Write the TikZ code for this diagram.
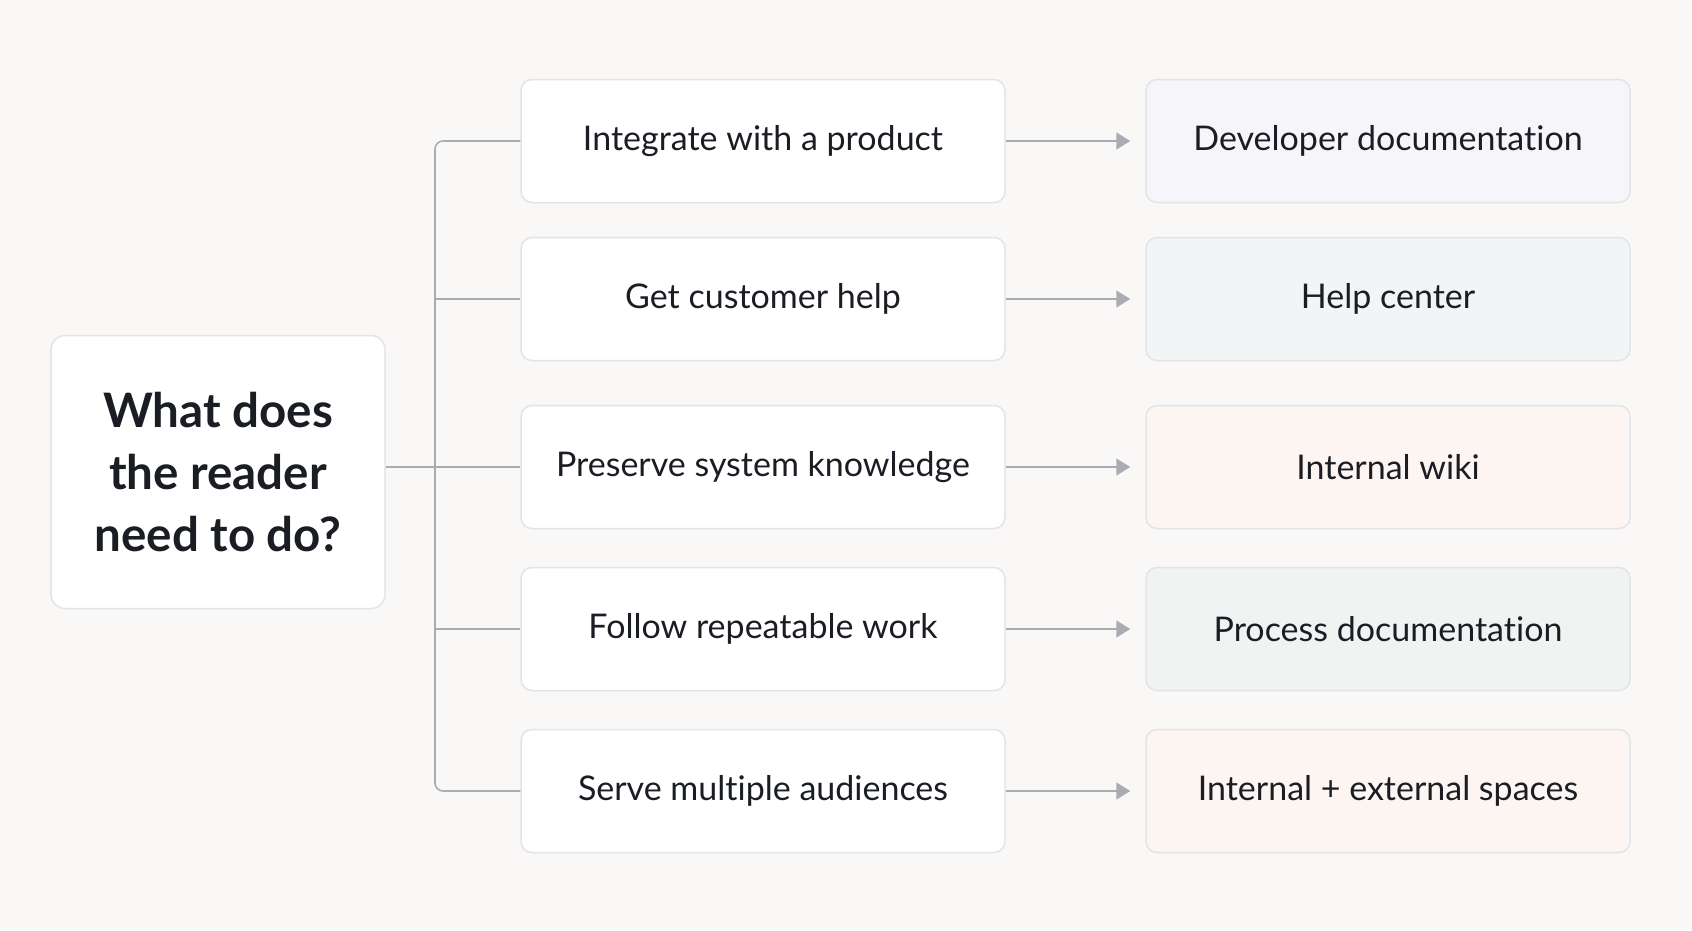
\documentclass[tikz,border=0pt]{standalone}
\usepackage{fontspec}
\setmainfont{Lato}[Ligatures={NoCommon}]
\usetikzlibrary{arrows.meta}
\definecolor{bgc}{HTML}{FAF8F7}
\definecolor{bord}{HTML}{E2E4E8}
\definecolor{linec}{HTML}{A9ACB2}
\definecolor{txt}{HTML}{1A1D23}
\definecolor{f1}{HTML}{F6F6FA}
\definecolor{f2}{HTML}{F1F5F6}
\definecolor{f3}{HTML}{FDF5F2}
\definecolor{f4}{HTML}{F1F3F3}
\definecolor{f5}{HTML}{FDF5F2}
\tikzset{
  box/.style={draw=bord, line width=1.5pt, rounded corners=11pt, fill=white,
    minimum width=484pt, minimum height=123pt, inner sep=0pt, text=txt,
    font=\fontsize{34}{40}\selectfont},
  qbox/.style={draw=bord, line width=1.5pt, rounded corners=14pt, fill=white,
    minimum width=334pt, minimum height=273pt, inner sep=0pt, text=txt,
    align=center, font=\fontsize{47.5}{62}\selectfont\bfseries},
  conn/.style={draw=linec, line width=1.6pt},
  arr/.style={conn, -{Triangle[width=17pt,length=14pt]}, shorten >=15pt}
}
\begin{document}
\begin{tikzpicture}[x=1pt,y=-1pt]
\fill[bgc] (0,0) rectangle (1692,930);
\useasboundingbox (0,0) rectangle (1692,930);

\node[qbox] (q) at (218,472) {What does\\the reader\\need to do?};

\node[box] (m1) at (763,141) {Integrate with a product};
\node[box] (m2) at (763,299) {Get customer help};
\node[box] (m3) at (763,467) {Preserve system knowledge};
\node[box] (m4) at (763,629) {Follow repeatable work};
\node[box] (m5) at (763,791) {Serve multiple audiences};

\node[box, fill=f1] (r1) at (1388,141) {Developer documentation};
\node[box, fill=f2] (r2) at (1388,299) {Help center};
\node[box, fill=f3] (r3) at (1388,467) {Internal wiki};
\node[box, fill=f4] (r4) at (1388,629) {Process documentation};
\node[box, fill=f5] (r5) at (1388,791) {Internal + external spaces};

\coordinate (tk) at (435,0);

\draw[conn, rounded corners=8pt] (m1.west) -| (tk |- m5.west) -- (m5.west);
\draw[conn] (tk |- m2.west) -- (m2.west);
\draw[conn] (tk |- m4.west) -- (m4.west);
\draw[conn] (q.east |- m3.west) -- (m3.west);

\draw[arr] (m1.east) -- (r1.west);
\draw[arr] (m2.east) -- (r2.west);
\draw[arr] (m3.east) -- (r3.west);
\draw[arr] (m4.east) -- (r4.west);
\draw[arr] (m5.east) -- (r5.west);
\end{tikzpicture}
\end{document}
